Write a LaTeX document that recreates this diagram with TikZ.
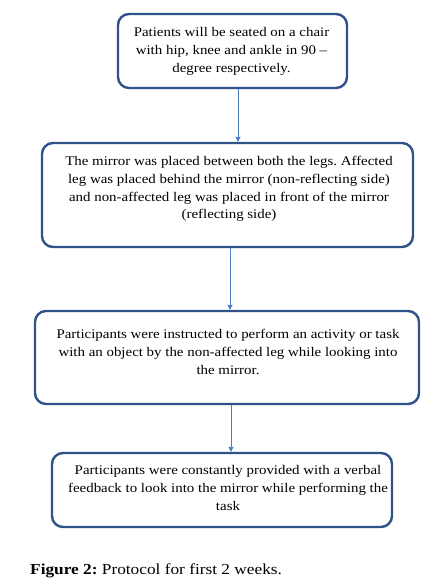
\documentclass[tikz,border=0pt]{standalone}
\usepackage{fontspec}
\setmainfont[FakeStretch=1.13]{Liberation Serif}
\usetikzlibrary{arrows.meta}
\definecolor{boxblue}{HTML}{2F5289}
\definecolor{arrblue}{HTML}{4A7CC0}
\frenchspacing
\tikzset{
  box/.style={draw=boxblue, line width=2.4pt, rounded corners=11pt, inner sep=0pt},
  txt/.style={align=center, font=\fontsize{13.2}{17.8}\selectfont, inner sep=0pt},
  arr/.style={draw=arrblue, line width=0.9pt, -{Triangle[length=5pt,width=5pt]}}
}
\begin{document}
\begin{tikzpicture}[x=1pt,y=-1pt]
\useasboundingbox (0,0) rectangle (438,586);
\node[box, minimum width=229pt, minimum height=74pt] (b1) at (232.5,51) {};
\node[box, minimum width=371pt, minimum height=104pt] (b2) at (227.5,195) {};
\node[box, minimum width=384pt, minimum height=93pt] (b3) at (227,357.5) {};
\node[box, minimum width=340pt, minimum height=74pt] (b4) at (222,490) {};
\node[txt] (t1) at (231.5,51.5) {Patients will be seated on a chair\\with hip, knee and ankle in 90 –\\degree respectively.};
\node[txt] (t2) at (229,189) {The mirror was placed between both the legs. Affected\\leg was placed behind the mirror (non-reflecting side)\\and non-affected leg was placed in front of the mirror\\(reflecting side)};
\node[txt] (t3) at (228,352) {Participants were instructed to perform an activity or task\\with an object by the non-affected leg while looking into\\the mirror.};
\node[txt] (t4) at (228,488) {Participants were constantly provided with a verbal\\feedback to look into the mirror while performing the\\task};
\coordinate (x1) at (238,0);
\coordinate (x2) at (230,0);
\coordinate (x3) at (231,0);
\draw[arr] (b1.south -| x1) -- (b2.north -| x1);
\draw[arr] (b2.south -| x2) -- (b3.north -| x2);
\draw[arr] (b3.south -| x3) -- (b4.north -| x3);
\node[anchor=base west, inner sep=0pt, font=\fontsize{15.3}{17}\selectfont] (cap) at (30,574) {\textbf{Figure 2:} Protocol for first 2 weeks.};
\end{tikzpicture}
\end{document}
